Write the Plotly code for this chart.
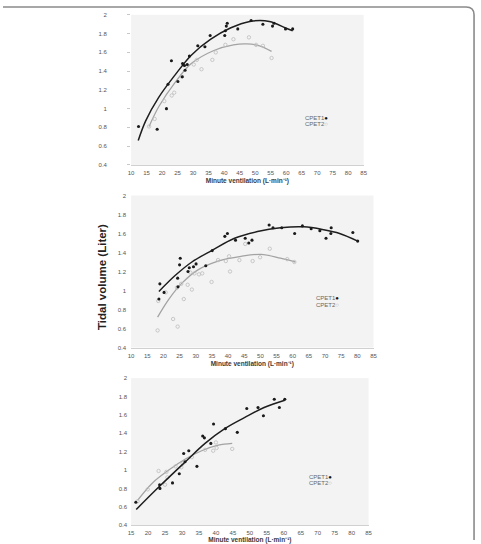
import plotly.graph_objects as go

W, H = 481, 544

# ---------------- data ----------------
# Panel 1
p1_c1_x = [12.4, 18.4, 21.4, 21.9, 23.0, 25.1, 26.5, 26.6, 27.2, 27.4, 28.1, 28.8, 31.5, 33.8, 35.5,
           40.2, 40.4, 40.7, 41.0, 44.4, 48.7, 52.5, 55.6, 56.1, 59.8, 62.1]
p1_c1_y = [0.81, 0.78, 1.00, 1.26, 1.51, 1.29, 1.34, 1.48, 1.46, 1.41, 1.47, 1.56, 1.67, 1.66, 1.78,
           1.78, 1.83, 1.88, 1.91, 1.85, 1.94, 1.90, 1.88, 1.91, 1.85, 1.85]
p1_c1_fit_x = [12.3, 14.7, 18.9, 24.2, 29.4, 35.7, 42.0, 48.3, 54.6, 59.8, 62.1]
p1_c1_fit_y = [0.66, 0.87, 1.12, 1.36, 1.57, 1.74, 1.86, 1.93, 1.93, 1.86, 1.83]
p1_c2_x = [15.8, 17.6, 20.7, 23.1, 23.9, 26.4, 30.2, 31.2, 32.7, 36.2, 37.3, 40.4, 43.0, 48.0, 50.3, 52.5, 55.3]
p1_c2_y = [0.81, 0.89, 1.08, 1.14, 1.17, 1.34, 1.47, 1.52, 1.42, 1.52, 1.60, 1.68, 1.74, 1.76, 1.68, 1.67, 1.54]
p1_c2_fit_x = [15.8, 18.9, 24.2, 29.4, 36.7, 43.0, 47.2, 51.4, 55.3]
p1_c2_fit_y = [0.81, 1.02, 1.28, 1.48, 1.62, 1.68, 1.69, 1.67, 1.61]

# Panel 2
p2_c1_x = [18.6, 18.9, 20.2, 24.4, 24.5, 25.0, 25.2, 27.6, 28.0, 29.3, 30.1, 33.1, 35.1, 39.0, 39.8, 42.3,
           45.3, 46.4, 47.4, 52.7, 53.9, 56.6, 60.6, 63.0, 65.7, 68.4, 70.3, 71.8, 71.9, 78.6, 80.1]
p2_c1_y = [0.91, 1.07, 0.98, 1.13, 1.04, 1.27, 1.34, 1.20, 1.24, 1.25, 1.28, 1.26, 1.42, 1.57, 1.60, 1.53,
           1.55, 1.50, 1.53, 1.69, 1.66, 1.66, 1.60, 1.68, 1.65, 1.63, 1.55, 1.60, 1.66, 1.61, 1.52]
p2_c1_fit_x = [18.6, 23.7, 28.8, 34.9, 42.0, 49.1, 56.2, 63.4, 69.5, 74.5, 80.1]
p2_c1_fit_y = [0.99, 1.16, 1.30, 1.42, 1.55, 1.62, 1.66, 1.67, 1.64, 1.60, 1.52]
p2_c2_x = [18.2, 18.4, 20.7, 23.0, 24.4, 24.2, 25.5, 26.3, 27.5, 28.3, 28.8, 29.6, 31.0, 32.0, 34.9, 36.9,
           39.3, 40.3, 40.6, 43.5, 45.3, 47.6, 49.9, 52.9, 58.3, 60.5]
p2_c2_y = [0.58, 0.89, 0.98, 0.70, 0.62, 1.03, 1.07, 0.91, 1.06, 1.19, 1.01, 1.18, 1.17, 1.18, 1.09, 1.32,
           1.31, 1.36, 1.20, 1.32, 1.49, 1.31, 1.35, 1.44, 1.33, 1.30]
p2_c2_fit_x = [18.2, 21.7, 25.8, 30.8, 36.9, 44.0, 50.2, 56.2, 60.8]
p2_c2_fit_y = [0.72, 0.91, 1.08, 1.22, 1.31, 1.36, 1.38, 1.34, 1.30]

# Panel 3
p3_c1_x = [16.4, 23.4, 23.5, 27.2, 29.2, 30.5, 30.9, 32.0, 34.4, 36.1, 36.6, 38.5, 39.3, 42.8, 46.3,
           49.1, 52.4, 54.0, 57.2, 58.7, 60.3]
p3_c1_y = [0.65, 0.84, 0.80, 0.86, 0.96, 1.18, 1.09, 1.21, 1.04, 1.37, 1.35, 1.29, 1.50, 1.45, 1.41,
           1.67, 1.68, 1.59, 1.77, 1.68, 1.77]
p3_c1_fit_x = [16.5, 23.3, 31.0, 36.8, 42.6, 48.4, 54.2, 60.3]
p3_c1_fit_y = [0.57, 0.82, 1.09, 1.29, 1.45, 1.57, 1.68, 1.76]
p3_c2_x = [16.9, 19.9, 23.1, 25.0, 25.4, 25.7, 28.1, 29.8, 30.2, 32.9, 36.8, 39.2, 40.0, 40.2, 44.8]
p3_c2_y = [0.66, 0.79, 0.99, 0.84, 0.98, 0.92, 1.04, 1.03, 1.07, 1.14, 1.22, 1.21, 1.30, 1.24, 1.23]
p3_c2_fit_x = [16.9, 21.3, 26.1, 31.0, 35.8, 40.7, 44.8]
p3_c2_fit_y = [0.67, 0.86, 1.00, 1.12, 1.21, 1.27, 1.29]

y_ticks = [0.4, 0.6, 0.8, 1, 1.2, 1.4, 1.6, 1.8, 2]
x_title = "Minute ventilation (L·min⁻¹)"
y_title = "Tidal volume (Liter)"
legend_1 = "CPET1"
legend_2 = "CPET2"

# ---------------- layout geometry (pixels) ----------------
panels = [
    dict(x0=130, x1=366, y0=12, y1=164, xr=[10, 85], standoff=19, ticklen=3),
    dict(x0=130, x1=376, y0=195, y1=349, xr=[10, 85], standoff=4, ticklen=0),
    dict(x0=130, x1=371, y0=380, y1=529, xr=[15, 85], standoff=3, ticklen=0),
]
series = [
    (p1_c1_x, p1_c1_y, p1_c1_fit_x, p1_c1_fit_y, p1_c2_x, p1_c2_y, p1_c2_fit_x, p1_c2_fit_y),
    (p2_c1_x, p2_c1_y, p2_c1_fit_x, p2_c1_fit_y, p2_c2_x, p2_c2_y, p2_c2_fit_x, p2_c2_fit_y),
    (p3_c1_x, p3_c1_y, p3_c1_fit_x, p3_c1_fit_y, p3_c2_x, p3_c2_y, p3_c2_fit_x, p3_c2_fit_y),
]
legend_pos = [(332, 116), (343, 299), (336, 480)]

FONT = "Liberation Sans, Arial, sans-serif"
fig = go.Figure()
layout = dict(
    width=W, height=H, margin=dict(l=0, r=0, t=0, b=0),
    paper_bgcolor="white", showlegend=False,
    font=dict(family=FONT, color="#555"),
)
annotations = []

for i, (p, s) in enumerate(zip(panels, series), start=1):
    xa = "x" if i == 1 else f"x{i}"
    ya = "y" if i == 1 else f"y{i}"
    c1x, c1y, f1x, f1y, c2x, c2y, f2x, f2y = s
    fig.add_trace(go.Scatter(x=f2x, y=f2y, mode="lines", xaxis=xa, yaxis=ya,
                             line=dict(color="#a3a3a3", width=1.3, shape="spline"),
                             hoverinfo="skip"))
    fig.add_trace(go.Scatter(x=c2x, y=c2y, mode="markers", xaxis=xa, yaxis=ya,
                             marker=dict(symbol="circle-open", size=3.4, color="#bcbcbc",
                                         line=dict(width=0.8, color="#bcbcbc"))))
    fig.add_trace(go.Scatter(x=f1x, y=f1y, mode="lines", xaxis=xa, yaxis=ya,
                             line=dict(color="#1e1e1e", width=1.5, shape="spline"),
                             hoverinfo="skip"))
    fig.add_trace(go.Scatter(x=c1x, y=c1y, mode="markers", xaxis=xa, yaxis=ya,
                             marker=dict(symbol="circle", size=3.1, color="#1a1a1a")))

    xkey = "xaxis" if i == 1 else f"xaxis{i}"
    ykey = "yaxis" if i == 1 else f"yaxis{i}"
    layout[xkey] = dict(
        domain=[p["x0"] / W, p["x1"] / W], anchor=ya, range=p["xr"],
        tick0=p["xr"][0], dtick=5, showgrid=False, zeroline=False,
        showline=True, linecolor="#d0d0d0", linewidth=1,
        ticks="", tickfont=dict(size=6, color="#555"), ticklabelstandoff=2,
        title=dict(text=f"<b>{x_title}</b>", font=dict(size=6.5, color="#3a3a3a"), standoff=3),
        fixedrange=True,
    )
    layout[ykey] = dict(
        domain=[1 - p["y1"] / H, 1 - p["y0"] / H], anchor=xa, range=[0.4, 2],
        tickvals=y_ticks, showgrid=False, zeroline=False, showline=False,
        ticks="outside" if p["ticklen"] else "", ticklen=max(p["ticklen"], 1),
        tickcolor="#c8c8c8", tickwidth=1,
        tickfont=dict(size=6, color="#555"), ticklabelstandoff=p["standoff"],
        fixedrange=True,
    )
    lx, ly = legend_pos[i - 1]
    annotations.append(dict(
        x=lx / W, y=1 - ly / H, xref="paper", yref="paper", xanchor="right", yanchor="middle",
        text=f"{legend_1}<span style='color:#111'>●</span>", showarrow=False,
        font=dict(size=6, color="#666", family=FONT)))
    annotations.append(dict(
        x=lx / W, y=1 - (ly + 6.5) / H, xref="paper", yref="paper", xanchor="right", yanchor="middle",
        text=f"{legend_2}<span style='color:#aaa'>○</span>", showarrow=False,
        font=dict(size=6, color="#666", family=FONT)))

layout["plot_bgcolor"] = "#f3f3f3"
annotations.append(dict(
    x=101 / W, y=1 - 278 / H, xref="paper", yref="paper", xanchor="center", yanchor="middle",
    text=f"<b>{y_title}</b>", textangle=-90, showarrow=False,
    font=dict(size=11.5, color="#222", family=FONT)))
layout["annotations"] = annotations

# outer frame (top edge + rounded top-right corner + right edge)
top = 1 - 4 / H
right = 478 / W
r_x, r_y = 8 / W, 8 / H
layout["shapes"] = [dict(
    type="path", xref="paper", yref="paper",
    path=f"M 0,{top} L {right - r_x},{top} Q {right},{top} {right},{top - r_y} L {right},0",
    line=dict(color="#8a8a8a", width=1.6),
)]

fig.update_layout(**layout)
fig.write_html("out.html")
